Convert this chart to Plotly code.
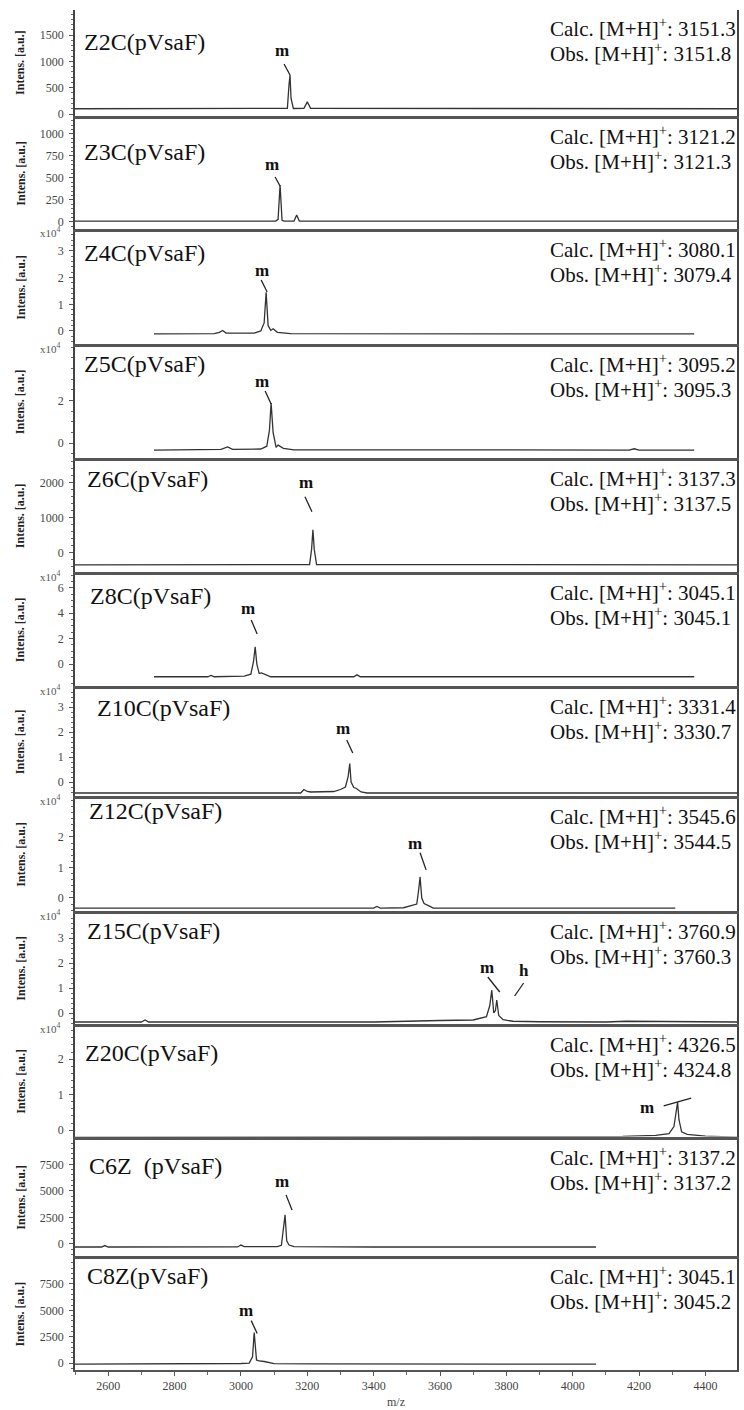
import plotly.graph_objects as go
from plotly.subplots import make_subplots

# ---------------- data ----------------
names = ["Z2C(pVsaF)", "Z3C(pVsaF)", "Z4C(pVsaF)", "Z5C(pVsaF)", "Z6C(pVsaF)", "Z8C(pVsaF)",
         "Z10C(pVsaF)", "Z12C(pVsaF)", "Z15C(pVsaF)", "Z20C(pVsaF)", "C6Z  (pVsaF)", "C8Z(pVsaF)"]
calc = ["3151.3", "3121.2", "3080.1", "3095.2", "3137.3", "3045.1",
        "3331.4", "3545.6", "3760.9", "4326.5", "3137.2", "3045.1"]
obs = ["3151.8", "3121.3", "3079.4", "3095.3", "3137.5", "3045.1",
       "3330.7", "3544.5", "3760.3", "4324.8", "3137.2", "3045.2"]

mz_z2c = [2500, 3130, 3140, 3145, 3148, 3151, 3158, 3190, 3200, 3210, 4495]
in_z2c = [100, 100, 110, 560, 740, 300, 105, 110, 230, 110, 100]

mz_z3c = [2500, 3105, 3112, 3118, 3124, 3130, 3160, 3168, 3176, 4495]
in_z3c = [10, 10, 30, 420, 20, 10, 10, 80, 10, 10]

mz_z4c = [2738, 2920, 2935, 2945, 2955, 3040, 3060, 3070, 3076, 3082, 3090, 3097, 3110, 3150, 4366]
in_z4c = [-0.11, -0.1, -0.05, 0.02, -0.08, -0.08, 0.0, 0.3, 1.45, 0.2, 0.02, 0.08, -0.05, -0.1, -0.11]

mz_z5c = [2738, 2940, 2960, 2975, 3060, 3078, 3086, 3091, 3097, 3106, 3112, 3128, 3160, 4170, 4185, 4200, 4366]
in_z5c = [-0.33, -0.3, -0.18, -0.3, -0.28, -0.15, 0.6, 1.88, 0.5, -0.2, -0.1, -0.25, -0.32, -0.33, -0.27, -0.33, -0.33]

mz_z6c = [2500, 3207, 3213, 3217, 3221, 3228, 4495]
in_z6c = [-343, -330, 100, 660, 100, -330, -343]

mz_z8c = [2738, 2900, 2910, 2920, 3010, 3030, 3038, 3043, 3048, 3055, 3062, 3075, 3090, 3340, 3350, 3360, 4366]
in_z8c = [-1.0, -1.0, -0.9, -1.0, -0.95, -0.8, 0.2, 1.35, 0.0, -0.75, -0.7, -0.85, -1.0, -1.0, -0.85, -1.0, -1.0]

mz_z10c = [2500, 3180, 3190, 3200, 3210, 3280, 3300, 3315, 3323, 3328, 3332, 3340, 3347, 3362, 3380, 4495]
in_z10c = [-0.44, -0.44, -0.3, -0.38, -0.4, -0.38, -0.3, -0.2, 0.2, 0.74, 0.0, -0.22, -0.25, -0.4, -0.44, -0.44]

mz_z12c = [2500, 3400, 3410, 3420, 3490, 3510, 3530, 3536, 3540, 3545, 3552, 3565, 3580, 4309]
in_z12c = [-0.33, -0.33, -0.28, -0.33, -0.32, -0.27, -0.2, 0.3, 0.69, 0.0, -0.18, -0.25, -0.33, -0.33]

mz_z15c = [2500, 2700, 2711, 2722, 3400, 3500, 3600, 3700, 3740, 3750, 3756, 3762, 3767, 3771, 3777, 3790, 3820, 3900, 4100, 4160, 4495]
in_z15c = [-0.36, -0.36, -0.28, -0.36, -0.36, -0.32, -0.3, -0.28, -0.15, 0.3, 0.92, 0.0, 0.1, 0.52, -0.1, -0.27, -0.33, -0.35, -0.36, -0.33, -0.36]

mz_z20c = [2500, 4050, 4150, 4250, 4290, 4305, 4312, 4316, 4320, 4328, 4345, 4400, 4495]
in_z20c = [-0.2, -0.2, -0.18, -0.15, -0.1, 0.1, 0.5, 0.79, 0.3, -0.05, -0.12, -0.17, -0.2]

mz_c6z = [2500, 2580, 2590, 2600, 2990, 3000, 3010, 3110, 3122, 3128, 3133, 3138, 3145, 3160, 3400, 4070]
in_c6z = [-283, -283, -150, -283, -280, -100, -250, -250, -120, 1500, 2736, 300, -100, -250, -283, -283]

mz_c8z = [2500, 2900, 2950, 3000, 3025, 3035, 3040, 3043, 3047, 3055, 3070, 3100, 3220, 4070]
in_c8z = [-94, -94, -60, -40, 0, 600, 2900, 1800, 300, 200, 150, -60, -80, -94]

spectra_mz = [mz_z2c, mz_z3c, mz_z4c, mz_z5c, mz_z6c, mz_z8c, mz_z10c, mz_z12c, mz_z15c, mz_z20c, mz_c6z, mz_c8z]
spectra_in = [in_z2c, in_z3c, in_z4c, in_z5c, in_z6c, in_z8c, in_z10c, in_z12c, in_z15c, in_z20c, in_c6z, in_c8z]

# y axis ranges / ticks per panel
y_ranges = [[-28, 1977], [-74, 1176], [-0.47, 3.73], [-0.68, 4.53], [-529, 2629], [-1.69, 7.05],
            [-0.54, 3.74], [-0.41, 3.26], [-0.42, 3.98], [-0.18, 2.92], [-1085, 9835], [-655, 9917]]
y_ticks = [[0, 500, 1000, 1500], [0, 250, 500, 750, 1000], [0, 1, 2, 3], [0, 2], [0, 1000, 2000],
           [0, 2, 4, 6], [0, 1, 2, 3], [0, 1, 2], [0, 1, 2, 3], [0, 1, 2],
           [0, 2500, 5000, 7500], [0, 2500, 5000, 7500]]
y_minor = [100, 50, 0.2, 0.5, 200, 0.5, 0.2, 0.2, 0.2, 0.2, 500, 500]
scaled_1e4 = [False, False, True, True, False, True, True, True, True, True, False, False]

x_ticks = [2600, 2800, 3000, 3200, 3400, 3600, 3800, 4000, 4200, 4400]

# peak labels: (text, label mz, label int, line start mz, int, line end mz, int)
peak_labels = [
    [("m", 3124, 1198, 3130, 950, 3148, 741)],
    [("m", 3094, 659, 3103, 511, 3118, 409)],
    [("m", 3064, 2.25, 3061, 1.91, 3079, 1.46)],
    [("m", 3064, 2.91, 3073, 2.44, 3091, 1.83)],
    [("m", 3196, 2000, 3193, 1600, 3214, 1171)],
    [("m", 3022, 4.41, 3031, 3.46, 3049, 2.36)],
    [("m", 3307, 2.16, 3319, 1.68, 3337, 1.16)],
    [("m", 3525, 1.77, 3540, 1.48, 3558, 0.92)],
    [("m", 3741, 1.84, 3744, 1.44, 3780, 0.84), ("h", 3852, 1.72, 3852, 1.2, 3825, 0.68)],
    [("m", 4223, 0.65, 4274, 0.68, 4357, 0.9)],
    [("m", 3124, 5849, 3136, 4622, 3154, 3208)],
    [("m", 3016, 4961, 3031, 4025, 3049, 2808)],
]

# ---------------- layout geometry ----------------
W, H = 744, 1410
ML, MR, MT, MB = 75, 5, 10, 40
PLOT_H = H - MT - MB
seps = [117, 230, 345, 459, 573, 687, 797, 912, 1025, 1138, 1257]
tops = [MT] + [s + 1.5 for s in seps]
bots = [s - 1.5 for s in seps] + [H - MB]
label_dx = [82, 82, 82, 82, 85, 88, 95, 87, 85, 83, 87, 85]
label_dy = [32, 33, 22, 17, 18, 21, 19, 12, 17, 26, 26, 17]


def py(y):
    return (H - MB - y) / PLOT_H


def px(x):
    return (x - ML) / (W - ML - MR)


N = 12
fig = make_subplots(rows=N, cols=1, shared_xaxes=True, vertical_spacing=0)

SERIF = "Liberation Serif"
annotations = []
shapes = []
for i in range(N):
    r = i + 1
    fig.add_trace(go.Scatter(x=spectra_mz[i], y=spectra_in[i], mode="lines",
                             line=dict(color="#333333", width=1.3), showlegend=False,
                             hoverinfo="skip"), row=r, col=1)
    sfx = "" if r == 1 else str(r)
    yk = "yaxis" + sfx
    xk = "xaxis" + sfx
    fig.layout[yk].update(
        domain=[py(bots[i]), py(tops[i])], range=y_ranges[i],
        tickmode="array", tickvals=y_ticks[i], ticktext=[str(v) for v in y_ticks[i]],
        showline=True, linecolor="#444444", linewidth=1.5, mirror=True,
        ticks="outside", ticklen=4, tickcolor="#555555", tickwidth=1,
        minor=dict(ticks="outside", ticklen=2, dtick=y_minor[i], tick0=0,
                   tickcolor="#666666", tickwidth=1),
        showgrid=False, zeroline=False,
        tickfont=dict(family=SERIF, size=12, color="#444444"),
        ticklabelstandoff=3,
    )
    last = (r == N)
    fig.layout[xk].update(
        range=[2500, 4495], showgrid=False, zeroline=False,
        showline=True, linecolor="#555555", linewidth=1.5, mirror=(r != 1),
        ticks="outside" if last else "", tickvals=x_ticks, ticklen=4,
        tickcolor="#555555", showticklabels=last,
        tickfont=dict(family=SERIF, size=12, color="#444444"),
    )
    if last:
        fig.layout[xk].update(minor=dict(ticks="outside", ticklen=3, dtick=100, tick0=2500,
                                         tickcolor="#666666"))

    top_p = py(tops[i])
    mid_p = py((tops[i] + bots[i]) / 2)
    # sample label
    annotations.append(dict(xref="paper", yref="paper", x=px(label_dx[i]), y=top_p,
                            yshift=-label_dy[i], xanchor="left", yanchor="middle",
                            text=names[i], showarrow=False,
                            font=dict(family=SERIF, size=24, color="#111111")))
    # calc / obs
    annotations.append(dict(xref="paper", yref="paper", x=px(549), y=top_p, yshift=-17,
                            xanchor="left", yanchor="middle",
                            text="Calc. [M+H]<sup>+</sup>: " + calc[i], showarrow=False,
                            font=dict(family=SERIF, size=21, color="#111111")))
    annotations.append(dict(xref="paper", yref="paper", x=px(549), y=top_p, yshift=-42,
                            xanchor="left", yanchor="middle",
                            text="Obs. [M+H]<sup>+</sup>: " + obs[i], showarrow=False,
                            font=dict(family=SERIF, size=21, color="#111111")))
    # y title
    annotations.append(dict(xref="paper", yref="paper", x=px(20), y=mid_p,
                            xanchor="center", yanchor="middle", textangle=-90,
                            text="<b>Intens. [a.u.]</b>", showarrow=False,
                            font=dict(family=SERIF, size=12, color="#222222")))
    if scaled_1e4[i]:
        annotations.append(dict(xref="paper", yref="paper", x=px(50), y=top_p, yshift=-1,
                                xanchor="center", yanchor="middle",
                                text="x10<sup>4</sup>", showarrow=False,
                                font=dict(family=SERIF, size=11, color="#555555")))
    xr = "x" + sfx
    yr = "y" + sfx
    for (t, lx, ly, x0, y0, x1, y1) in peak_labels[i]:
        annotations.append(dict(xref=xr, yref=yr, x=lx, y=ly, xanchor="center",
                                yanchor="middle", text="<b>" + t + "</b>", showarrow=False,
                                font=dict(family=SERIF, size=17, color="#111111")))
        shapes.append(dict(type="line", xref=xr, yref=yr, x0=x0, y0=y0, x1=x1, y1=y1,
                           line=dict(color="#222222", width=1.3)))

annotations.append(dict(xref="paper", yref="paper", x=px(397), y=py(1402),
                        xanchor="center", yanchor="middle", text="m/z", showarrow=False,
                        font=dict(family=SERIF, size=12, color="#444444")))

fig.update_layout(width=W, height=H, margin=dict(l=ML, r=MR, t=MT, b=MB),
                  paper_bgcolor="white", plot_bgcolor="white",
                  annotations=annotations, shapes=shapes, showlegend=False)

fig.write_html("out.html")
